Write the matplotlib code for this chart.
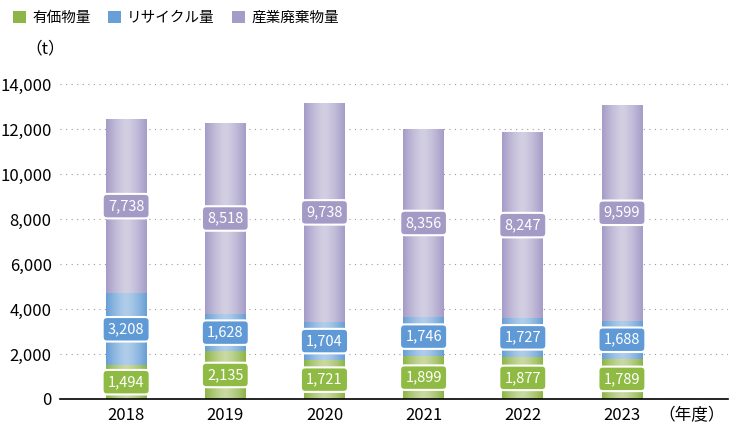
import numpy as np
import matplotlib
matplotlib.use('Agg')
import matplotlib.pyplot as plt
from matplotlib.patches import Patch
from matplotlib.colors import LinearSegmentedColormap

plt.rcParams['font.family'] = ['Noto Sans CJK JP', 'DejaVu Sans']

# data
years = ['2018', '2019', '2020', '2021', '2022', '2023']
valuable = [1494, 2135, 1721, 1899, 1877, 1789]
recycle = [3208, 1628, 1704, 1746, 1727, 1688]
waste = [7738, 8518, 9738, 8356, 8247, 9599]
series_names = ['有価物量', 'リサイクル量', '産業廃棄物量']

# colours: (edge, centre, label box)
styles = [
    ('#8db548', '#c9d9a0', '#8fbb45'),
    ('#689fd6', '#afcdea', '#5f9ad6'),
    ('#a59cc8', '#d3cfe2', '#a39bc6'),
]

fig = plt.figure(figsize=(7.5, 4.3), dpi=100)
ax = fig.add_axes([0.08, 0.0721, 0.8907, 0.7326])

x = np.arange(len(years))
width = 0.41
grad = np.abs(np.linspace(-1, 1, 64)) ** 1.4
grad = grad.reshape(1, -1)

bottom = np.zeros(len(years))
for vals, (edge, centre, boxc) in zip([valuable, recycle, waste], styles):
    bars = ax.bar(x, vals, width, bottom=bottom, color=edge, zorder=2)
    cmap = LinearSegmentedColormap.from_list('g', [centre, edge])
    for b in bars:
        x0, y0 = b.get_x(), b.get_y()
        im = ax.imshow(grad, cmap=cmap, aspect='auto', zorder=2.5,
                       extent=[x0, x0 + b.get_width(), y0, y0 + b.get_height()],
                       interpolation='bicubic')
        im.set_clip_path(b)
    for xi, v, b0 in zip(x, vals, bottom):
        ax.text(xi, b0 + v / 2, f'{v:,}', ha='center', va='center',
                color='white', fontsize=10.5, zorder=5,
                bbox=dict(boxstyle='round,pad=0.36,rounding_size=0.3',
                          fc=boxc, ec='white', lw=1.5))
    bottom += np.array(vals)

ax.set_xlim(-0.667, 6.07)
ax.set_ylim(0, 14000)
ax.set_yticks(range(0, 14001, 2000))
ax.set_yticklabels([f'{t:,}' for t in range(0, 14001, 2000)], fontsize=12)
ax.set_xticks(x)
ax.set_xticklabels(years, fontsize=12)
ax.tick_params(length=0, pad=6)
ax.yaxis.grid(True, linestyle=(0, (1, 4)), color='#999999', lw=0.8, zorder=0)
ax.set_axisbelow(True)
for s in ['top', 'right', 'left']:
    ax.spines[s].set_visible(False)
ax.spines['bottom'].set_linewidth(1.2)

fig.text(0.06, 0.887, '（t）', fontsize=12, ha='center', va='center')
fig.text(0.922, 0.033, '（年度）', fontsize=12, ha='center', va='center')

handles = [Patch(fc=s[0], ec='none') for s in styles]
fig.legend(handles, series_names, loc='upper left', bbox_to_anchor=(0.0, 1.005),
           ncol=3, frameon=False, fontsize=10.5, handlelength=0.9,
           handleheight=0.9, handletextpad=0.4, columnspacing=1.2)

fig.savefig('out.png', dpi=100)
